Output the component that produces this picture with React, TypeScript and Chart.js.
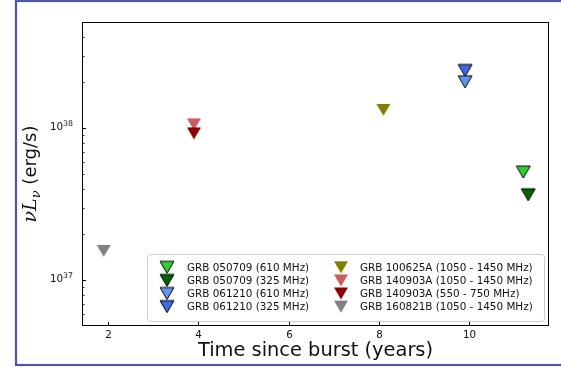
import React, { useEffect, useRef } from 'react';
import { Chart, registerables } from 'chart.js';

Chart.register(...registerables);

// Radio upper limits for short GRB host searches
const SERIES_LABELS = [
  'GRB 050709 (610 MHz)',
  'GRB 050709 (325 MHz)',
  'GRB 061210 (610 MHz)',
  'GRB 061210 (325 MHz)',
  'GRB 100625A (1050 - 1450 MHz)',
  'GRB 140903A (1050 - 1450 MHz)',
  'GRB 140903A (550 - 750 MHz)',
  'GRB 160821B (1050 - 1450 MHz)',
];
const TIME_YEARS = [11.2, 11.31, 9.91, 9.91, 8.1, 3.9, 3.9, 1.9];
const LUMINOSITY = [5.15e37, 3.65e37, 2.02e38, 2.4e38, 1.32e38, 1.06e38, 9.25e37, 1.56e37];
const SERIES_COLORS = ['#32cd32', '#006400', '#6495ed', '#4169e1', '#808000', '#cd5c5c', '#8b0000', '#808080'];
const SERIES_EDGED = [true, true, true, true, false, false, false, false];
const DRAW_ORDER = [0, 0, 0, 0, 0, 0, -1, 0];

const X_MIN = 1.42;
const X_MAX = 11.77;
const Y_MIN = 5e36;
const Y_MAX = 5e38;
const X_TICKS = [2, 4, 6, 8, 10];
const Y_MAJOR_TICKS = [1e37, 1e38];
const Y_MINOR_TICKS = [6e36, 7e36, 8e36, 9e36, 2e37, 3e37, 4e37, 5e37, 6e37, 7e37, 8e37, 9e37, 2e38, 3e38, 4e38];

const SANS = '"DejaVu Sans"';
const SERIF = '"DejaVu Serif"';

function downTriangle(fill: string, edged: boolean): HTMLCanvasElement {
  const c = document.createElement('canvas');
  c.width = 18;
  c.height = 16;
  const ctx = c.getContext('2d')!;
  const cx = 9;
  const cy = 8;
  const hw = 7;
  const hh = 6;
  ctx.beginPath();
  ctx.moveTo(cx - hw, cy - hh);
  ctx.lineTo(cx + hw, cy - hh);
  ctx.lineTo(cx, cy + hh);
  ctx.closePath();
  ctx.fillStyle = fill;
  ctx.fill();
  if (edged) {
    ctx.lineWidth = 1;
    ctx.strokeStyle = '#000';
    ctx.lineJoin = 'miter';
    ctx.stroke();
  }
  return c;
}

const figurePlugin = {
  id: 'figureDecor',
  beforeDraw(chart: any) {
    const { ctx, width, height } = chart;
    ctx.save();
    ctx.fillStyle = '#ffffff';
    ctx.fillRect(0, 0, width, height);
    ctx.strokeStyle = '#4b58a8';
    ctx.lineWidth = 2.2;
    ctx.strokeRect(16, 1, width + 10, 364);
    ctx.restore();
  },
  afterDatasetsDraw(chart: any) {
    const { ctx, chartArea } = chart;
    const { left, right, top, bottom } = chartArea;
    const xs = chart.scales.x;
    const ys = chart.scales.y;
    ctx.save();

    // spines
    ctx.strokeStyle = '#000';
    ctx.lineWidth = 1;
    ctx.strokeRect(left + 0.5, top + 0.5, right - left - 1, bottom - top - 1);

    // x ticks and labels
    ctx.fillStyle = '#111';
    ctx.font = `10.3px ${SANS}`;
    ctx.textAlign = 'center';
    ctx.textBaseline = 'alphabetic';
    X_TICKS.forEach((v) => {
      const px = Math.round(xs.getPixelForValue(v)) + 0.5;
      ctx.beginPath();
      ctx.moveTo(px, bottom);
      ctx.lineTo(px, bottom - 4);
      ctx.stroke();
      ctx.fillText(String(v), px, bottom + 12);
    });

    // y ticks
    Y_MAJOR_TICKS.forEach((v) => {
      const py = Math.round(ys.getPixelForValue(v)) + 0.5;
      ctx.beginPath();
      ctx.moveTo(left, py);
      ctx.lineTo(left + 4, py);
      ctx.stroke();
      const exp = String(Math.round(Math.log10(v)));
      ctx.textAlign = 'left';
      ctx.font = `7.8px ${SANS}`;
      const wSup = ctx.measureText(exp).width;
      ctx.font = `10.3px ${SANS}`;
      const wBase = ctx.measureText('10').width;
      const xEnd = left - 9;
      ctx.fillText('10', xEnd - wSup - wBase, py + 1.5);
      ctx.font = `7.8px ${SANS}`;
      ctx.fillText(exp, xEnd - wSup, py - 2.3);
    });
    ctx.lineWidth = 0.8;
    Y_MINOR_TICKS.forEach((v) => {
      const py = Math.round(ys.getPixelForValue(v)) + 0.5;
      ctx.beginPath();
      ctx.moveTo(left, py);
      ctx.lineTo(left + 2.5, py);
      ctx.stroke();
    });

    // x axis title
    ctx.fillStyle = '#111';
    ctx.font = `19.4px ${SANS}`;
    ctx.textAlign = 'center';
    ctx.fillText('Time since burst (years)', (left + right) / 2, 356);

    // y axis title: nu L_nu (erg/s)
    ctx.save();
    ctx.translate(29, (top + bottom) / 2);
    ctx.rotate(-Math.PI / 2);
    const parts = [
      { t: '\u03bd', f: `italic 19px ${SERIF}`, dy: 0 },
      { t: 'L', f: `italic 19px ${SERIF}`, dy: 0 },
      { t: '\u03bd', f: `italic 13px ${SERIF}`, dy: 4 },
      { t: ' (erg/s)', f: `18px ${SANS}`, dy: 0 },
    ];
    let total = 0;
    const widths = parts.map((p) => {
      ctx.font = p.f;
      const w = ctx.measureText(p.t).width;
      total += w;
      return w;
    });
    let cx = -total / 2;
    ctx.textAlign = 'left';
    parts.forEach((p, i) => {
      ctx.font = p.f;
      ctx.fillText(p.t, cx, 6.6 + p.dy);
      cx += widths[i];
    });
    ctx.restore();

    // legend
    const bx = 147.5;
    const by = 254.5;
    const bw = 397;
    const bh = 67;
    ctx.beginPath();
    ctx.roundRect(bx, by, bw, bh, 3);
    ctx.fillStyle = 'rgba(255,255,255,0.8)';
    ctx.fill();
    ctx.strokeStyle = '#cccccc';
    ctx.lineWidth = 1;
    ctx.stroke();

    const markerX = [167, 341];
    const textX = [187, 360];
    ctx.font = `10.4px ${SANS}`;
    ctx.fillStyle = '#111';
    ctx.textAlign = 'left';
    ctx.textBaseline = 'middle';
    chart.data.datasets.forEach((ds: any, i: number) => {
      const col = i < 4 ? 0 : 1;
      const row = i % 4;
      const y = 267.3 + row * 13.1;
      const img = ds.pointStyle as HTMLCanvasElement;
      ctx.drawImage(img, markerX[col] - img.width / 2, y - img.height / 2);
      ctx.fillText(ds.label, textX[col], y + 0.5);
    });
    ctx.restore();
  },
};

export default function App() {
  const canvasRef = useRef<HTMLCanvasElement | null>(null);

  useEffect(() => {
    if (!canvasRef.current) return;
    const datasets = SERIES_LABELS.map((label, i) => ({
      label,
      data: [{ x: TIME_YEARS[i], y: LUMINOSITY[i] }],
      pointStyle: downTriangle(SERIES_COLORS[i], SERIES_EDGED[i]),
      pointRadius: 7,
      backgroundColor: SERIES_COLORS[i],
      borderColor: SERIES_EDGED[i] ? '#000' : SERIES_COLORS[i],
      showLine: false,
      order: DRAW_ORDER[i],
    }));
    const chart = new Chart(canvasRef.current, {
      type: 'scatter',
      data: { datasets },
      options: {
        responsive: false,
        animation: false,
        devicePixelRatio: 1,
        layout: { padding: { top: 22, right: 12, left: 0, bottom: 0 } },
        plugins: { legend: { display: false }, tooltip: { enabled: false } },
        scales: {
          x: {
            type: 'linear',
            min: X_MIN,
            max: X_MAX,
            bounds: 'data',
            grid: { display: false },
            border: { display: false },
            ticks: { display: false },
            afterFit: (s: any) => {
              s.height = 41;
            },
          },
          y: {
            type: 'logarithmic',
            min: Y_MIN,
            max: Y_MAX,
            bounds: 'data',
            grid: { display: false },
            border: { display: false },
            ticks: { display: false },
            afterFit: (s: any) => {
              s.width = 82;
            },
          },
        },
      },
      plugins: [figurePlugin],
    } as any);
    return () => chart.destroy();
  }, []);

  return (
    <div style={{ position: 'fixed', left: 0, top: 0, width: 561, height: 367, background: '#fff' }}>
      <canvas ref={canvasRef} width={561} height={367} style={{ display: 'block' }} />
    </div>
  );
}
